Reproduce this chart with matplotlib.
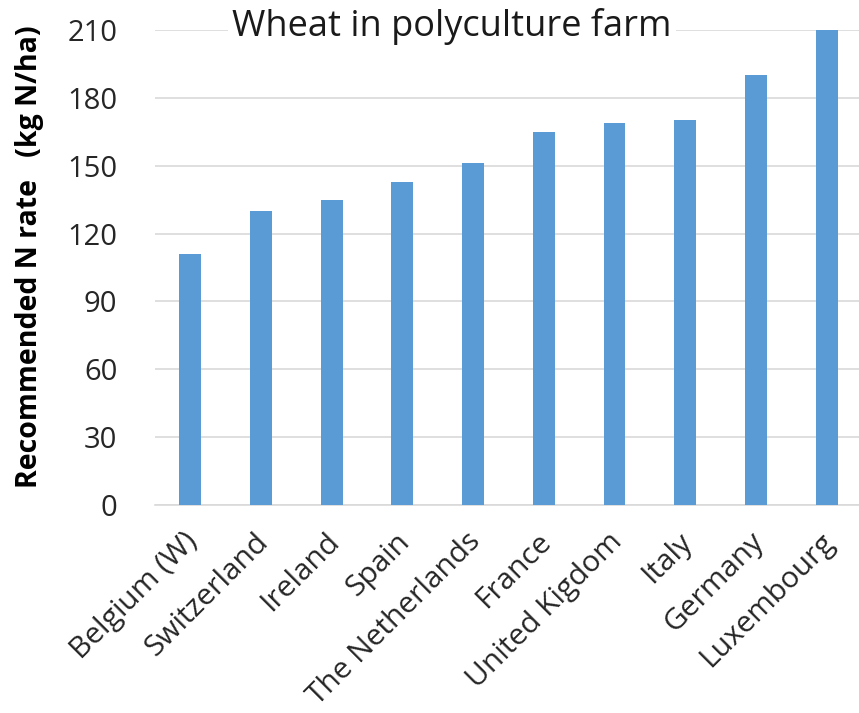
import matplotlib
matplotlib.use("Agg")
import matplotlib.pyplot as plt
from matplotlib.transforms import ScaledTranslation

countries = ["Belgium (W)", "Switzerland", "Ireland", "Spain", "The Netherlands",
             "France", "United Kigdom", "Italy", "Germany", "Luxembourg"]
n_rate = [111, 130, 135, 143, 151, 165, 169, 170, 190, 210]
y_ticks = [0, 30, 60, 90, 120, 150, 180, 210]

plt.rcParams["font.family"] = ["Open Sans", "DejaVu Sans"]

fig = plt.figure(figsize=(8.59, 7.13), dpi=100)
ax = fig.add_axes([0.1804, 0.2917, 0.823, 0.6663])

x = list(range(len(countries)))
ax.bar(x, n_rate, width=0.31, color="#5B9BD5", zorder=3)

ax.set_xlim(-0.5, len(countries) - 0.5)
ax.set_ylim(0, 210)
ax.set_yticks(y_ticks)
ax.set_yticklabels([str(v) for v in y_ticks])
ax.set_xticks(x)
ax.set_xticklabels(countries, rotation=45, ha="right", rotation_mode="anchor")

ax.grid(axis="y", color="#d9d9d9", linewidth=1.2, zorder=0)
ax.set_axisbelow(True)
for s in ["top", "right", "left"]:
    ax.spines[s].set_visible(False)
ax.spines["bottom"].set_color("#d9d9d9")
ax.spines["bottom"].set_linewidth(1.2)

ax.tick_params(axis="y", length=0, pad=27, labelsize=21, labelcolor="#262626")
ax.tick_params(axis="x", length=0, pad=16, labelsize=21.5, labelcolor="#262626")

# nudge the slanted category labels a little to the left
shift = ScaledTranslation(-7 / 100, 0, fig.dpi_scale_trans)
for lbl in ax.get_xticklabels():
    lbl.set_transform(lbl.get_transform() + shift)

ax.set_ylabel("Recommended N rate   (kg N/ha)", fontsize=20.5, fontweight="bold",
              color="black")
ax.yaxis.set_label_coords(-0.157, 0.522)

# chart title sits on the top gridline, masking it with a white box
ax.text(0.42, 211.5, "Wheat in polyculture farm", transform=ax.get_yaxis_transform(),
        ha="center", va="center", fontsize=26, color="#1a1a1a", zorder=5,
        clip_on=False,
        bbox=dict(facecolor="white", edgecolor="none", pad=3))

fig.savefig("out.png", dpi=100, facecolor="white")
